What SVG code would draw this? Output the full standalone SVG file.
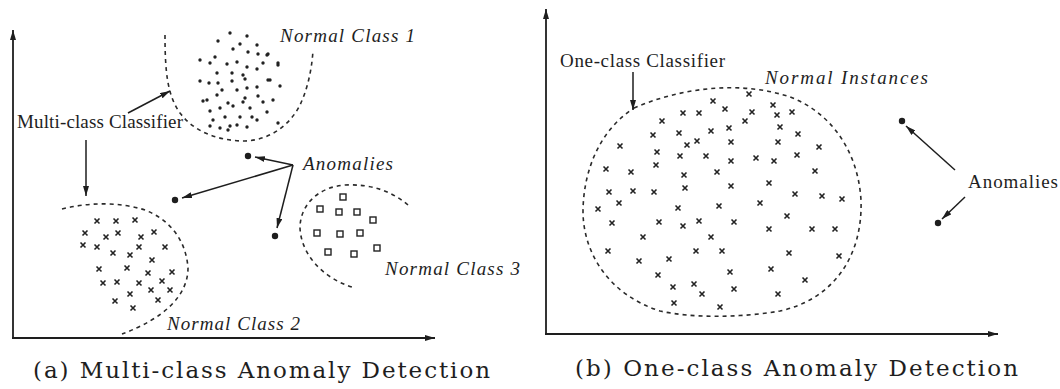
<svg xmlns="http://www.w3.org/2000/svg" width="1060" height="389" viewBox="0 0 1060 389">
<style>
.ax{stroke:#1e1e1e;stroke-width:1.8;fill:none}
.dash{stroke:#2a2a2a;stroke-width:1.6;fill:none;stroke-dasharray:4 4}
.con{stroke:#1e1e1e;stroke-width:1.5;fill:none}
.lbl{font-family:"Liberation Serif",serif;font-size:19px;fill:#1e1e1e}
.it{font-family:"Liberation Serif",serif;font-style:italic;font-size:19px;fill:#1e1e1e}
.cap{font-family:"DejaVu Serif","Liberation Serif",serif;font-size:23px;fill:#1e1e1e}
.an{fill:#1e1e1e}
</style>
<defs>
<marker id="ah" viewBox="0 0 10 6" refX="10" refY="3" markerWidth="10" markerHeight="6" markerUnits="userSpaceOnUse" orient="auto"><path d="M0,0 L10,3 L0,6 Z" fill="#1e1e1e"/></marker>
<marker id="axh" viewBox="0 0 10 6" refX="10" refY="3" markerWidth="10" markerHeight="6" markerUnits="userSpaceOnUse" orient="auto"><path d="M0,0 L10,3 L0,6 Z" fill="#1e1e1e"/></marker>
<path id="x" d="M-2.5,-2.5 L2.5,2.5 M2.5,-2.5 L-2.5,2.5" stroke="#222" stroke-width="1.6"/>
<rect id="sq" x="-3" y="-3" width="6" height="6" fill="none" stroke="#222" stroke-width="1.4"/>
<circle id="d" r="1.7" fill="#222"/>
</defs>

<g id="panel-a-axes">
<path class="ax" d="M13,338 L13,30" marker-end="url(#axh)"/>
<path class="ax" d="M12,338 L435,338" marker-end="url(#axh)"/>
</g>

<g id="normal-class-1">
<path class="dash" d="M165,35 C165,70 167,95 180,113 C195,133 220,141 245,141 C270,140 290,125 300,105 C308,88 312,68 313,50"/>
<use href="#d" x="230" y="33"/><use href="#d" x="247" y="36"/><use href="#d" x="218" y="41"/><use href="#d" x="240" y="44"/><use href="#d" x="257" y="45"/><use href="#d" x="233" y="49"/><use href="#d" x="248" y="52"/><use href="#d" x="258" y="54"/><use href="#d" x="268" y="54"/><use href="#d" x="215" y="57"/><use href="#d" x="200" y="60"/><use href="#d" x="210" y="63"/><use href="#d" x="227" y="64"/><use href="#d" x="237" y="62"/><use href="#d" x="263" y="63"/><use href="#d" x="278" y="63"/><use href="#d" x="247" y="67"/><use href="#d" x="257" y="69"/><use href="#d" x="217" y="73"/><use href="#d" x="232" y="73"/><use href="#d" x="243" y="75"/><use href="#d" x="200" y="81"/><use href="#d" x="209" y="83"/><use href="#d" x="218" y="83"/><use href="#d" x="232" y="81"/><use href="#d" x="245" y="79"/><use href="#d" x="268" y="80"/><use href="#d" x="222" y="90"/><use href="#d" x="237" y="90"/><use href="#d" x="247" y="88"/><use href="#d" x="257" y="87"/><use href="#d" x="280" y="86"/><use href="#d" x="217" y="95"/><use href="#d" x="245" y="98"/><use href="#d" x="258" y="96"/><use href="#d" x="203" y="101"/><use href="#d" x="207" y="100"/><use href="#d" x="228" y="103"/><use href="#d" x="243" y="102"/><use href="#d" x="263" y="102"/><use href="#d" x="273" y="100"/><use href="#d" x="220" y="108"/><use href="#d" x="233" y="106"/><use href="#d" x="250" y="108"/><use href="#d" x="210" y="111"/><use href="#d" x="267" y="112"/><use href="#d" x="225" y="117"/><use href="#d" x="213" y="120"/><use href="#d" x="240" y="117"/><use href="#d" x="252" y="117"/><use href="#d" x="257" y="120"/><use href="#d" x="230" y="126"/><use href="#d" x="237" y="125"/><use href="#d" x="247" y="127"/><use href="#d" x="220" y="128"/><use href="#d" x="278" y="123"/><use href="#d" x="210" y="126"/><use href="#d" x="228" y="130"/><use href="#d" x="267" y="55"/><use href="#d" x="278" y="65"/><use href="#d" x="270" y="80"/>
<text class="it" x="280" y="42" textLength="135" lengthAdjust="spacing">Normal Class 1</text>
</g>

<g id="normal-class-2">
<path class="dash" d="M62,209 C90,202 120,202 145,210 C170,220 186,240 188,268 C188,295 165,318 122,334"/>
<use href="#x" x="97" y="221"/><use href="#x" x="116" y="221"/><use href="#x" x="135" y="220"/><use href="#x" x="85" y="233"/><use href="#x" x="106" y="237"/><use href="#x" x="118" y="233"/><use href="#x" x="141" y="237"/><use href="#x" x="154" y="232"/><use href="#x" x="83" y="245"/><use href="#x" x="97" y="247"/><use href="#x" x="113" y="253"/><use href="#x" x="130" y="255"/><use href="#x" x="139" y="247"/><use href="#x" x="165" y="247"/><use href="#x" x="152" y="260"/><use href="#x" x="99" y="269"/><use href="#x" x="127" y="268"/><use href="#x" x="148" y="273"/><use href="#x" x="172" y="272"/><use href="#x" x="103" y="283"/><use href="#x" x="117" y="282"/><use href="#x" x="139" y="283"/><use href="#x" x="162" y="281"/><use href="#x" x="130" y="294"/><use href="#x" x="151" y="290"/><use href="#x" x="170" y="290"/><use href="#x" x="115" y="301"/><use href="#x" x="158" y="300"/><use href="#x" x="133" y="308"/>
<text class="it" x="167" y="330" textLength="133" lengthAdjust="spacing">Normal Class 2</text>
</g>

<g id="normal-class-3">
<path class="dash" d="M408,205 C390,190 370,184 345,185 C318,187 300,205 300,228 C301,252 320,278 355,288"/>
<use href="#sq" x="343" y="197"/><use href="#sq" x="320" y="209"/><use href="#sq" x="339" y="212"/><use href="#sq" x="357" y="212"/><use href="#sq" x="373" y="220"/><use href="#sq" x="317" y="233"/><use href="#sq" x="340" y="234"/><use href="#sq" x="360" y="233"/><use href="#sq" x="377" y="248"/><use href="#sq" x="328" y="252"/><use href="#sq" x="354" y="254"/>
<text class="it" x="385" y="275" textLength="135" lengthAdjust="spacing">Normal Class 3</text>
</g>

<g id="multi-class-classifier">
<text class="lbl" x="17" y="128" textLength="166" lengthAdjust="spacing">Multi-class Classifier</text>
</g>

<g id="anomalies-a">
<circle class="an" cx="248" cy="156" r="3.2"/>
<circle class="an" cx="175" cy="200" r="3.2"/>
<circle class="an" cx="275" cy="236" r="3.2"/>
<text class="it" x="303" y="170" textLength="90" lengthAdjust="spacing">Anomalies</text>
</g>

<g id="panel-b-axes">
<path class="ax" d="M546,335 L546,9" marker-end="url(#axh)"/>
<path class="ax" d="M545,334 L998,334" marker-end="url(#axh)"/>
</g>

<g id="normal-instances">
<path class="dash" d="M634,108 C680,88 740,80 790,97 C830,112 858,150 861,200 C863,260 830,300 780,311 C740,318 690,318 660,311 C610,295 584,255 583,213 C583,170 600,130 634,108 Z"/>
<use href="#x" x="713" y="101"/><use href="#x" x="749" y="94"/><use href="#x" x="773" y="105"/><use href="#x" x="725" y="109"/><use href="#x" x="683" y="113"/><use href="#x" x="699" y="113"/><use href="#x" x="752" y="112"/><use href="#x" x="745" y="121"/><use href="#x" x="777" y="115"/><use href="#x" x="792" y="112"/><use href="#x" x="662" y="121"/><use href="#x" x="653" y="135"/><use href="#x" x="679" y="133"/><use href="#x" x="711" y="131"/><use href="#x" x="729" y="128"/><use href="#x" x="780" y="127"/><use href="#x" x="798" y="134"/><use href="#x" x="620" y="146"/><use href="#x" x="657" y="152"/><use href="#x" x="687" y="145"/><use href="#x" x="697" y="141"/><use href="#x" x="731" y="142"/><use href="#x" x="778" y="142"/><use href="#x" x="819" y="147"/><use href="#x" x="656" y="165"/><use href="#x" x="680" y="156"/><use href="#x" x="706" y="156"/><use href="#x" x="731" y="161"/><use href="#x" x="756" y="158"/><use href="#x" x="774" y="161"/><use href="#x" x="797" y="155"/><use href="#x" x="606" y="169"/><use href="#x" x="631" y="172"/><use href="#x" x="684" y="175"/><use href="#x" x="717" y="172"/><use href="#x" x="815" y="171"/><use href="#x" x="685" y="188"/><use href="#x" x="731" y="186"/><use href="#x" x="769" y="183"/><use href="#x" x="795" y="194"/><use href="#x" x="822" y="196"/><use href="#x" x="842" y="199"/><use href="#x" x="609" y="192"/><use href="#x" x="633" y="191"/><use href="#x" x="654" y="192"/><use href="#x" x="598" y="209"/><use href="#x" x="619" y="203"/><use href="#x" x="678" y="208"/><use href="#x" x="719" y="206"/><use href="#x" x="760" y="203"/><use href="#x" x="787" y="216"/><use href="#x" x="612" y="223"/><use href="#x" x="659" y="222"/><use href="#x" x="683" y="226"/><use href="#x" x="699" y="221"/><use href="#x" x="734" y="222"/><use href="#x" x="769" y="229"/><use href="#x" x="812" y="229"/><use href="#x" x="835" y="229"/><use href="#x" x="643" y="237"/><use href="#x" x="711" y="237"/><use href="#x" x="608" y="251"/><use href="#x" x="696" y="251"/><use href="#x" x="722" y="251"/><use href="#x" x="789" y="253"/><use href="#x" x="839" y="256"/><use href="#x" x="639" y="261"/><use href="#x" x="669" y="259"/><use href="#x" x="658" y="275"/><use href="#x" x="730" y="272"/><use href="#x" x="771" y="269"/><use href="#x" x="805" y="280"/><use href="#x" x="673" y="287"/><use href="#x" x="694" y="284"/><use href="#x" x="702" y="294"/><use href="#x" x="734" y="289"/><use href="#x" x="778" y="294"/><use href="#x" x="674" y="303"/><use href="#x" x="720" y="307"/>
<text class="it" x="765" y="84" textLength="163" lengthAdjust="spacing">Normal Instances</text>
</g>

<g id="one-class-classifier">
<text class="lbl" x="560" y="67" textLength="165" lengthAdjust="spacing">One-class Classifier</text>
</g>

<g id="anomalies-b">
<circle class="an" cx="902" cy="121" r="3.2"/>
<circle class="an" cx="938" cy="223" r="3.2"/>
<text class="lbl" x="968" y="188" textLength="90" lengthAdjust="spacing">Anomalies</text>
</g>

<g id="connectors">
<path class="con" d="M128,113 L170,91" marker-end="url(#ah)"/>
<path class="con" d="M86,140 L86,196" marker-end="url(#ah)"/>
<path class="con" d="M293,165 L255,157" marker-end="url(#ah)"/>
<path class="con" d="M293,165 L182,198" marker-end="url(#ah)"/>
<path class="con" d="M293,165 L277,228" marker-end="url(#ah)"/>
<path class="con" d="M633,72 L633,110" marker-end="url(#ah)"/>
<path class="con" d="M955,170 L906,126" marker-end="url(#ah)"/>
<path class="con" d="M965,197 L942,219" marker-end="url(#ah)"/>
</g>

<g id="captions">
<text class="cap" x="33" y="378" textLength="457" lengthAdjust="spacing">(a) Multi-class Anomaly Detection</text>
<text class="cap" x="575" y="376" textLength="443" lengthAdjust="spacing">(b) One-class Anomaly Detection</text>
</g>
</svg>
